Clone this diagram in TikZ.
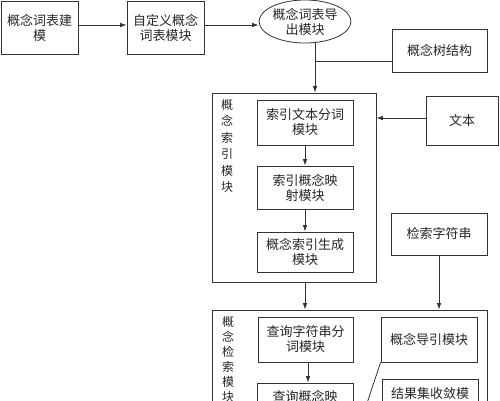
\documentclass[tikz,border=0pt]{standalone}
\usepackage{fontspec}
\setmainfont{Noto Sans CJK SC}
\usetikzlibrary{shapes.geometric,arrows.meta}
\begin{document}
\begin{tikzpicture}[x=1pt,y=-1pt,
  line/.style={draw=black!80,line width=0.8pt},
  arr/.style={line,-{Latex[length=6.5pt,width=4.5pt]}},
  box/.style={line,rectangle,inner sep=0pt,align=center,
    font=\fontsize{13}{15}\selectfont,text=black!85},
  outer/.style={line,rectangle,inner sep=0pt},
  vlabel/.style={inner sep=0pt,align=center,text=black!85},
  oval/.style={line,ellipse,inner sep=0pt,align=center,
    font=\fontsize{13}{15}\selectfont,text=black!85}]
\useasboundingbox (0,0) rectangle (500,400);
\fill[white] (0,0) rectangle (500,400);
\clip (0,0) rectangle (500,400);
% top row
\node[box,minimum width=77,minimum height=53] (b1) at (39.5,27.5) {概念词表建\\模};
\node[box,minimum width=77,minimum height=53] (b2) at (165.5,27.5) {自定义概念\\词表模块};
\node[oval,minimum width=90,minimum height=43] (el) at (305,21.5) {概念词表导\\出模块};
\node[box,minimum width=95,minimum height=43] (tree) at (439.5,50.5) {概念树结构};
% index module
\node[outer,minimum width=164,minimum height=189] (out1) at (294,187.5) {};
\node[vlabel,font=\fontsize{12}{16.4}\selectfont] (v1) at (227,146) {概\\念\\索\\引\\模\\块};
\node[box,minimum width=96,minimum height=45] (i1) at (305,122.5) {索引文本分词\\模块};
\node[box,minimum width=96,minimum height=43] (i2) at (305,187.5) {索引概念映\\射模块};
\node[box,minimum width=96,minimum height=40] (i3) at (305,252) {概念索引生成\\模块};
\node[box,minimum width=72,minimum height=49] (txt) at (462,120.5) {文本};
\node[box,minimum width=96,minimum height=42] (qs) at (439,234) {检索字符串};
% retrieval module
\node[outer,minimum width=275,minimum height=170] (out2) at (349.5,395) {};
\node[vlabel,font=\fontsize{12}{15}\selectfont] (v2) at (228,359.5) {概\\念\\检\\索\\模\\块};
\node[box,minimum width=95,minimum height=45] (q1) at (305.5,339.5) {查询字符串分\\词模块};
\node[box,minimum width=96,minimum height=45] (g1) at (429,339.5) {概念导引模块};
\node[box,minimum width=96,minimum height=42] (q2) at (305,404) {查询概念映\\\phantom{射模块}};
\node[box,minimum width=96,minimum height=44] (r1) at (430,401) {结果集收敛模\\\phantom{块}};
% connectors
\coordinate (ej) at (315,61);
\coordinate (dend) at (362,418);
\draw[arr] ([yshift=2.5]b1.east) -- ([yshift=2.5]b2.west);
\draw[arr] ([yshift=2.5]b2.east) -- ([yshift=2.5]b2.east -| el.west);
\draw[arr] (el.south -| ej) -- (out1.north -| ej);
\draw[line] (ej) -- (ej -| tree.west);
\draw[arr] ([yshift=2.5]txt.west) -- ([yshift=2.5]txt.west -| out1.east);
\draw[arr] (i1) -- (i2);
\draw[arr] (i2) -- (i3);
\draw[arr] (out1.south -| i3) -- (out2.north -| i3);
\draw[arr] (qs.south) -- (qs.south |- out2.north);
\draw[arr] (q1.south -| 308,0) -- (q2.north -| 308,0);
\draw[line] (g1.south west) -- (dend);
\end{tikzpicture}
\end{document}
